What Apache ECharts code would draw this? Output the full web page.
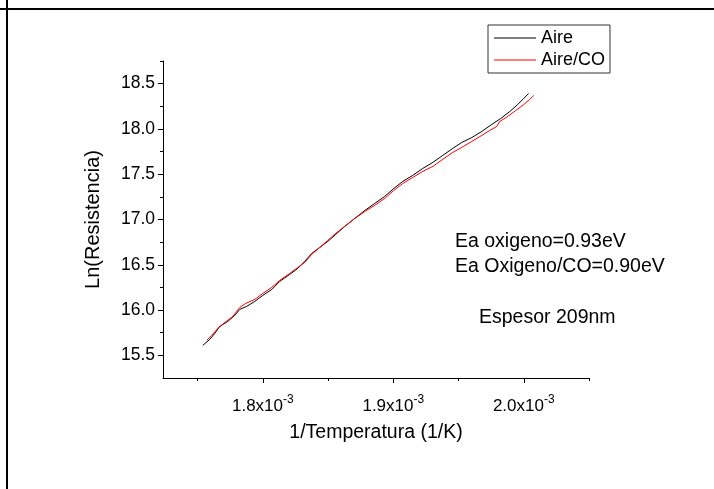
<!DOCTYPE html>
<html>
<head>
<meta charset="utf-8">
<script src="https://cdn.jsdelivr.net/npm/echarts@6/dist/echarts.min.js"></script>
<style>
html,body{margin:0;padding:0;background:#fff;}
#chart{width:714px;height:489px;}
</style>
</head>
<body>
<div id="chart"></div>
<script>
// ---- data ----
const aireX = [1.7540,1.7594,1.7632,1.7670,1.7732,1.7785,1.7824,1.7877,1.7939,1.8000,1.8069,1.8130,1.8207,1.8268,1.8322,1.8375,1.8437,1.8498,1.8559,1.8628,1.8705,1.8782,1.8858,1.8935,1.9004,1.9073,1.9149,1.9226,1.9303,1.9379,1.9456,1.9525,1.9602,1.9678,1.9755,1.9824,1.9893,1.9954,2.0000,2.0038];
const aireY = [15.610,15.677,15.743,15.820,15.875,15.942,16.008,16.041,16.096,16.162,16.228,16.317,16.394,16.460,16.538,16.626,16.692,16.758,16.836,16.924,17.012,17.100,17.178,17.255,17.343,17.421,17.487,17.564,17.630,17.708,17.785,17.851,17.905,17.972,18.050,18.116,18.193,18.270,18.337,18.392];
const aireCoX = [1.7571,1.7609,1.7655,1.7709,1.7770,1.7824,1.7870,1.7939,1.8000,1.8069,1.8130,1.8207,1.8268,1.8322,1.8375,1.8437,1.8498,1.8559,1.8628,1.8705,1.8782,1.8858,1.8935,1.9004,1.9073,1.9149,1.9226,1.9303,1.9379,1.9456,1.9525,1.9602,1.9678,1.9739,1.9793,1.9816,1.9877,1.9939,2.0000,2.0046,2.0077];
const aireCoY = [15.666,15.721,15.798,15.864,15.930,16.030,16.074,16.118,16.184,16.251,16.328,16.405,16.471,16.527,16.615,16.692,16.769,16.847,16.924,17.012,17.089,17.156,17.233,17.321,17.398,17.464,17.531,17.586,17.664,17.741,17.796,17.862,17.928,17.983,18.027,18.083,18.138,18.204,18.270,18.326,18.370];
const seriesNames = ['Aire','Aire/CO'];
const xScale = 1e-3;
const xMajorTicks = [1.8,1.9,2.0];
const xMajorLabels = ['1.8','1.9','2.0'];
const xMinorTicks = [1.75,1.85,1.95,2.05];
const yMajorTicks = [15.5,16.0,16.5,17.0,17.5,18.0,18.5];
const yMajorLabels = ['15.5','16.0','16.5','17.0','17.5','18.0','18.5'];
const yMinorTicks = [15.75,16.25,16.75,17.25,17.75,18.25,18.75];
const annotations = ['Ea oxigeno=0.93eV','Ea Oxigeno/CO=0.90eV','Espesor 209nm'];

// ---- build ----
const FONT = 'Liberation Sans, Arial, sans-serif';
const pairs = (xs, ys) => xs.map((x, i) => [x * xScale, ys[i]]);
const xMin = 1.7235e-3, xMax = 2.05e-3, yMin = 15.25, yMax = 18.75;

const chart = echarts.init(document.getElementById('chart'));
const axisLine = {show: true, lineStyle: {color: '#000', width: 1}};
const option = {
  animation: false,
  backgroundColor: '#fff',
  grid: {left: 163, right: 125, top: 61, bottom: 111, containLabel: false},
  legend: {
    orient: 'vertical', left: 488, top: 25,
    data: seriesNames,
    icon: 'rect',
    itemWidth: 42, itemHeight: 1, itemGap: 4,
    padding: [4, 5, 4, 6],
    borderColor: '#333', borderWidth: 1,
    textStyle: {fontFamily: FONT, fontSize: 18, color: '#000', lineHeight: 18}
  },
  xAxis: [
    {
      type: 'value', min: xMin, max: xMax, position: 'bottom',
      name: '1/Temperatura (1/K)', nameLocation: 'middle', nameGap: 45,
      nameTextStyle: {fontFamily: FONT, fontSize: 19.5, color: '#000'},
      axisLine: axisLine,
      splitLine: {show: false},
      axisTick: {show: true, inside: false, length: 5, customValues: xMajorTicks.map(v => v * xScale), lineStyle: {color: '#000'}},
      axisLabel: {
        show: true, margin: 16,
        customValues: xMajorTicks.map(v => v * xScale),
        formatter: function (v) {
          const i = xMajorTicks.findIndex(t => Math.abs(t * xScale - v) < 1e-9);
          return '{n|' + (i >= 0 ? xMajorLabels[i] : '') + 'x10}{s|-3}';
        },
        rich: {
          n: {fontFamily: FONT, fontSize: 17, color: '#000'},
          s: {fontFamily: FONT, fontSize: 12, color: '#000', padding: [0, 0, 13, 0]}
        }
      }
    },
    {
      type: 'value', min: xMin, max: xMax, position: 'bottom',
      axisLine: {show: false},
      splitLine: {show: false},
      axisLabel: {show: false},
      axisTick: {show: true, inside: false, length: 3, customValues: xMinorTicks.map(v => v * xScale), lineStyle: {color: '#000'}}
    }
  ],
  yAxis: [
    {
      type: 'value', min: yMin, max: yMax, position: 'left',
      name: 'Ln(Resistencia)', nameLocation: 'middle', nameGap: 60, nameRotate: 90,
      nameTextStyle: {fontFamily: FONT, fontSize: 20, color: '#000'},
      axisLine: axisLine,
      splitLine: {show: false},
      axisTick: {show: true, inside: false, length: 5, customValues: yMajorTicks, lineStyle: {color: '#000'}},
      axisLabel: {
        show: true, margin: 8, customValues: yMajorTicks,
        fontFamily: FONT, fontSize: 17.5, color: '#000',
        formatter: function (v) {
          const i = yMajorTicks.findIndex(t => Math.abs(t - v) < 1e-9);
          return i >= 0 ? yMajorLabels[i] : '';
        }
      }
    },
    {
      type: 'value', min: yMin, max: yMax, position: 'left',
      axisLine: {show: false},
      splitLine: {show: false},
      axisLabel: {show: false},
      axisTick: {show: true, inside: false, length: 3, customValues: yMinorTicks, lineStyle: {color: '#000'}}
    }
  ],
  series: [
    {
      name: seriesNames[0], type: 'line', xAxisIndex: 0, yAxisIndex: 0,
      data: pairs(aireX, aireY), showSymbol: false, symbol: 'none', smooth: false,
      lineStyle: {color: '#000', width: 1}, itemStyle: {color: '#000'}
    },
    {
      name: seriesNames[1], type: 'line', xAxisIndex: 0, yAxisIndex: 0,
      data: pairs(aireCoX, aireCoY), showSymbol: false, symbol: 'none', smooth: false,
      lineStyle: {color: '#ff0000', width: 1}, itemStyle: {color: '#ff0000'}
    }
  ],
  graphic: [
    {type: 'line', shape: {x1: 0, y1: 9, x2: 714, y2: 9}, style: {stroke: '#000', lineWidth: 2}},
    {type: 'line', shape: {x1: 7, y1: 0, x2: 7, y2: 489}, style: {stroke: '#000', lineWidth: 2}},
    {type: 'text', left: 455, top: 232, style: {text: annotations[0], font: '19.5px ' + FONT, fill: '#000'}},
    {type: 'text', left: 455, top: 257, style: {text: annotations[1], font: '19.5px ' + FONT, fill: '#000'}},
    {type: 'text', left: 479, top: 308, style: {text: annotations[2], font: '19.5px ' + FONT, fill: '#000'}}
  ]
};
chart.setOption(option);
</script>
</body>
</html>
